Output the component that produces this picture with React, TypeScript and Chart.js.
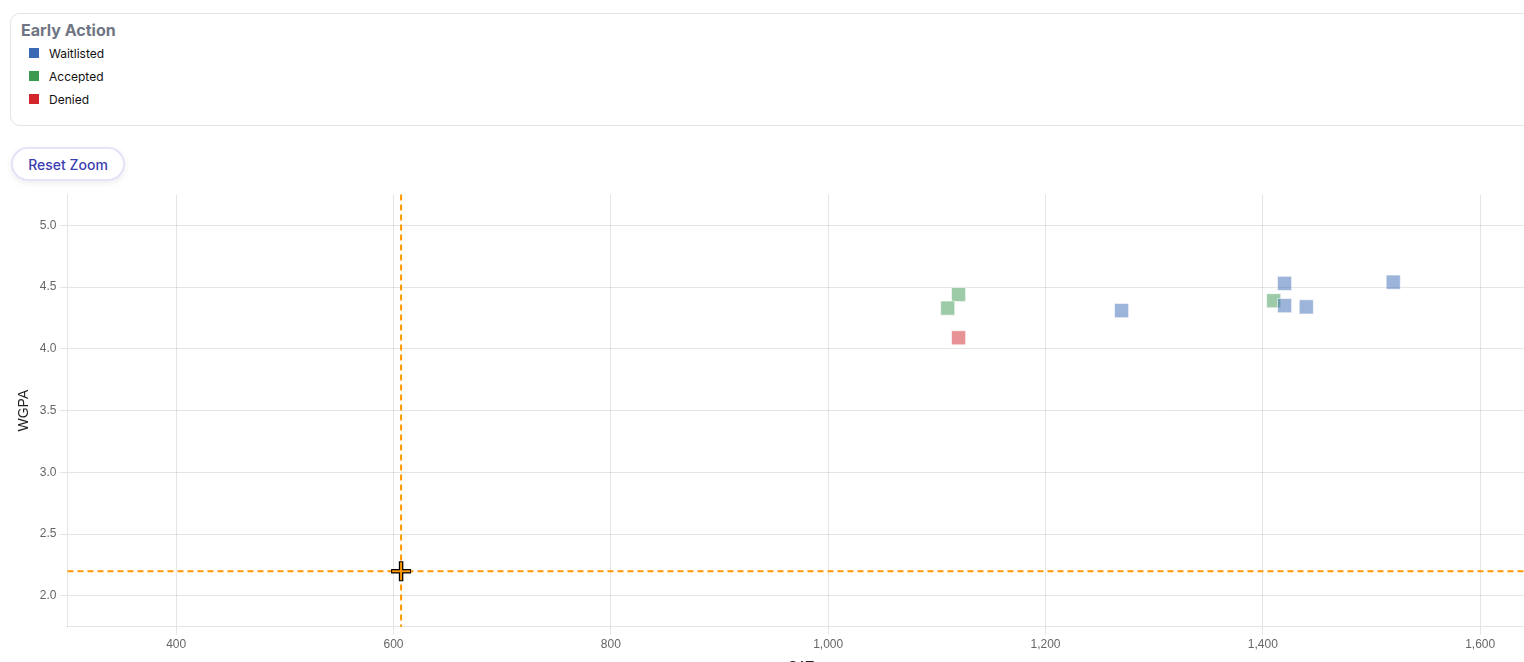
import React, { useEffect, useRef } from "react";
import { Chart, registerables } from "chart.js";

Chart.register(...registerables);

const legendTitle = "Early Action";
const seriesNames = ["Waitlisted", "Accepted", "Denied"];
const seriesColors = ["#3a6ab4", "#3d9850", "#d0262c"];
const seriesFill = ["rgba(58,106,180,0.5)", "rgba(61,152,80,0.5)", "rgba(208,38,44,0.5)"];

const waitlistedSAT = [1270, 1420, 1420, 1440, 1520];
const waitlistedGPA = [4.31, 4.53, 4.35, 4.34, 4.54];
const acceptedSAT = [1120, 1110, 1410];
const acceptedGPA = [4.44, 4.33, 4.39];
const deniedSAT = [1120];
const deniedGPA = [4.09];

const userSAT = 607;
const userGPA = 2.2;

const xMin = 300;
const xMax = 1650;
const yMin = 1.75;
const yMax = 5.25;
const xTicks = [400, 600, 800, 1000, 1200, 1400, 1600];
const yTicks = [2.0, 2.5, 3.0, 3.5, 4.0, 4.5, 5.0];

const xTitle = "SAT";
const yTitle = "WGPA";

const toPoints = (xs: number[], ys: number[]) => xs.map((x, i) => ({ x, y: ys[i] }));

const crosshairPlugin = {
  id: "crosshairLines",
  beforeDatasetsDraw(chart: any) {
    const { ctx, chartArea, scales } = chart;
    const px = scales.x.getPixelForValue(userSAT);
    const py = scales.y.getPixelForValue(userGPA);
    ctx.save();
    ctx.strokeStyle = "#ff9800";
    ctx.lineWidth = 2;
    ctx.setLineDash([6, 4]);
    ctx.beginPath();
    ctx.moveTo(px, chartArea.top);
    ctx.lineTo(px, chartArea.bottom);
    ctx.moveTo(chartArea.left, py);
    ctx.lineTo(chartArea.right, py);
    ctx.stroke();
    ctx.restore();
  },
};

const FONT = "Arial, 'Liberation Sans', sans-serif";

function ScatterChart() {
  const ref = useRef<HTMLCanvasElement | null>(null);
  useEffect(() => {
    if (!ref.current) return;
    const mk = (i: number, xs: number[], ys: number[]) => ({
      label: seriesNames[i],
      data: toPoints(xs, ys),
      pointStyle: "rect",
      pointRadius: 10,
      pointHoverRadius: 10,
      backgroundColor: seriesFill[i],
      borderColor: "rgba(255,255,255,0.6)",
      borderWidth: 1,
      order: 3,
    });
    const chart = new Chart(ref.current, {
      type: "scatter",
      data: {
        datasets: [
          mk(0, waitlistedSAT, waitlistedGPA),
          mk(1, acceptedSAT, acceptedGPA),
          mk(2, deniedSAT, deniedGPA),
          {
            label: "You",
            data: [{ x: userSAT, y: userGPA }],
            pointStyle: "cross",
            pointRadius: 10,
            borderColor: "#000",
            borderWidth: 4.5,
            backgroundColor: "#000",
            order: 1,
          } as any,
          {
            label: "You2",
            data: [{ x: userSAT, y: userGPA }],
            pointStyle: "cross",
            pointRadius: 9,
            borderColor: "#ff9800",
            borderWidth: 2,
            backgroundColor: "#ff9800",
            order: 0,
          } as any,
        ],
      },
      options: {
        animation: false,
        responsive: false,
        layout: { padding: { left: 12, top: 5, right: 5, bottom: 0 } },
        plugins: { legend: { display: false }, tooltip: { enabled: false } },
        scales: {
          x: {
            type: "linear",
            min: xMin,
            max: xMax,
            afterBuildTicks: (s: any) => { s.ticks = xTicks.map((v) => ({ value: v })); },
            ticks: { color: "#666", font: { size: 12, family: FONT } },
            title: { display: true, text: xTitle, color: "#222", font: { size: 14, family: FONT } },
          },
          y: {
            type: "linear",
            min: yMin,
            max: yMax,
            afterBuildTicks: (s: any) => { s.ticks = yTicks.map((v) => ({ value: v })); },
            ticks: { color: "#666", font: { size: 12, family: FONT }, callback: (v: any) => Number(v).toFixed(1) },
            title: { display: true, text: yTitle, color: "#222", font: { size: 14, family: FONT } },
          },
        },
      } as any,
      plugins: [crosshairPlugin],
    });
    return () => chart.destroy();
  }, []);
  return <canvas ref={ref} width={1549} height={500} style={{ display: "block" }} />;
}

export default function App() {
  const ui = "Inter, 'Noto Sans', sans-serif";
  return (
    <div style={{ position: "fixed", inset: 0, overflow: "hidden", background: "#fff", fontFamily: ui }}>
      <div
        style={{
          position: "absolute",
          left: 10,
          top: 13,
          width: 1540,
          height: 113,
          border: "1px solid #e3e3e3",
          borderRadius: 10,
          boxSizing: "border-box",
        }}
      >
        <div style={{ position: "absolute", left: 10, top: 6, fontSize: 16, fontWeight: 700, color: "#6f7584" }}>{legendTitle}</div>
        {seriesNames.map((n, i) => (
          <div key={n} style={{ position: "absolute", left: 18, top: 32 + i * 23, height: 14, display: "flex", alignItems: "center" }}>
            <span style={{ display: "inline-block", width: 10, height: 10, background: seriesColors[i] }} />
            <span style={{ marginLeft: 10, fontSize: 12, color: "#111" }}>{n}</span>
          </div>
        ))}
      </div>
      <div
        style={{
          position: "absolute",
          left: 11,
          top: 147,
          width: 114,
          height: 34,
          boxSizing: "border-box",
          border: "2px solid #e4e4f8",
          borderRadius: 17,
          background: "#fff",
          color: "#3b3db3",
          fontSize: 14,
          fontWeight: 500,
          display: "flex",
          alignItems: "center",
          justifyContent: "center",
          boxShadow: "0 2px 6px rgba(0,0,0,0.08)",
        }}
      >
        Reset Zoom
      </div>
      <div style={{ position: "absolute", left: 0, top: 180, width: 1549, height: 500 }}>
        <ScatterChart />
      </div>
    </div>
  );
}
